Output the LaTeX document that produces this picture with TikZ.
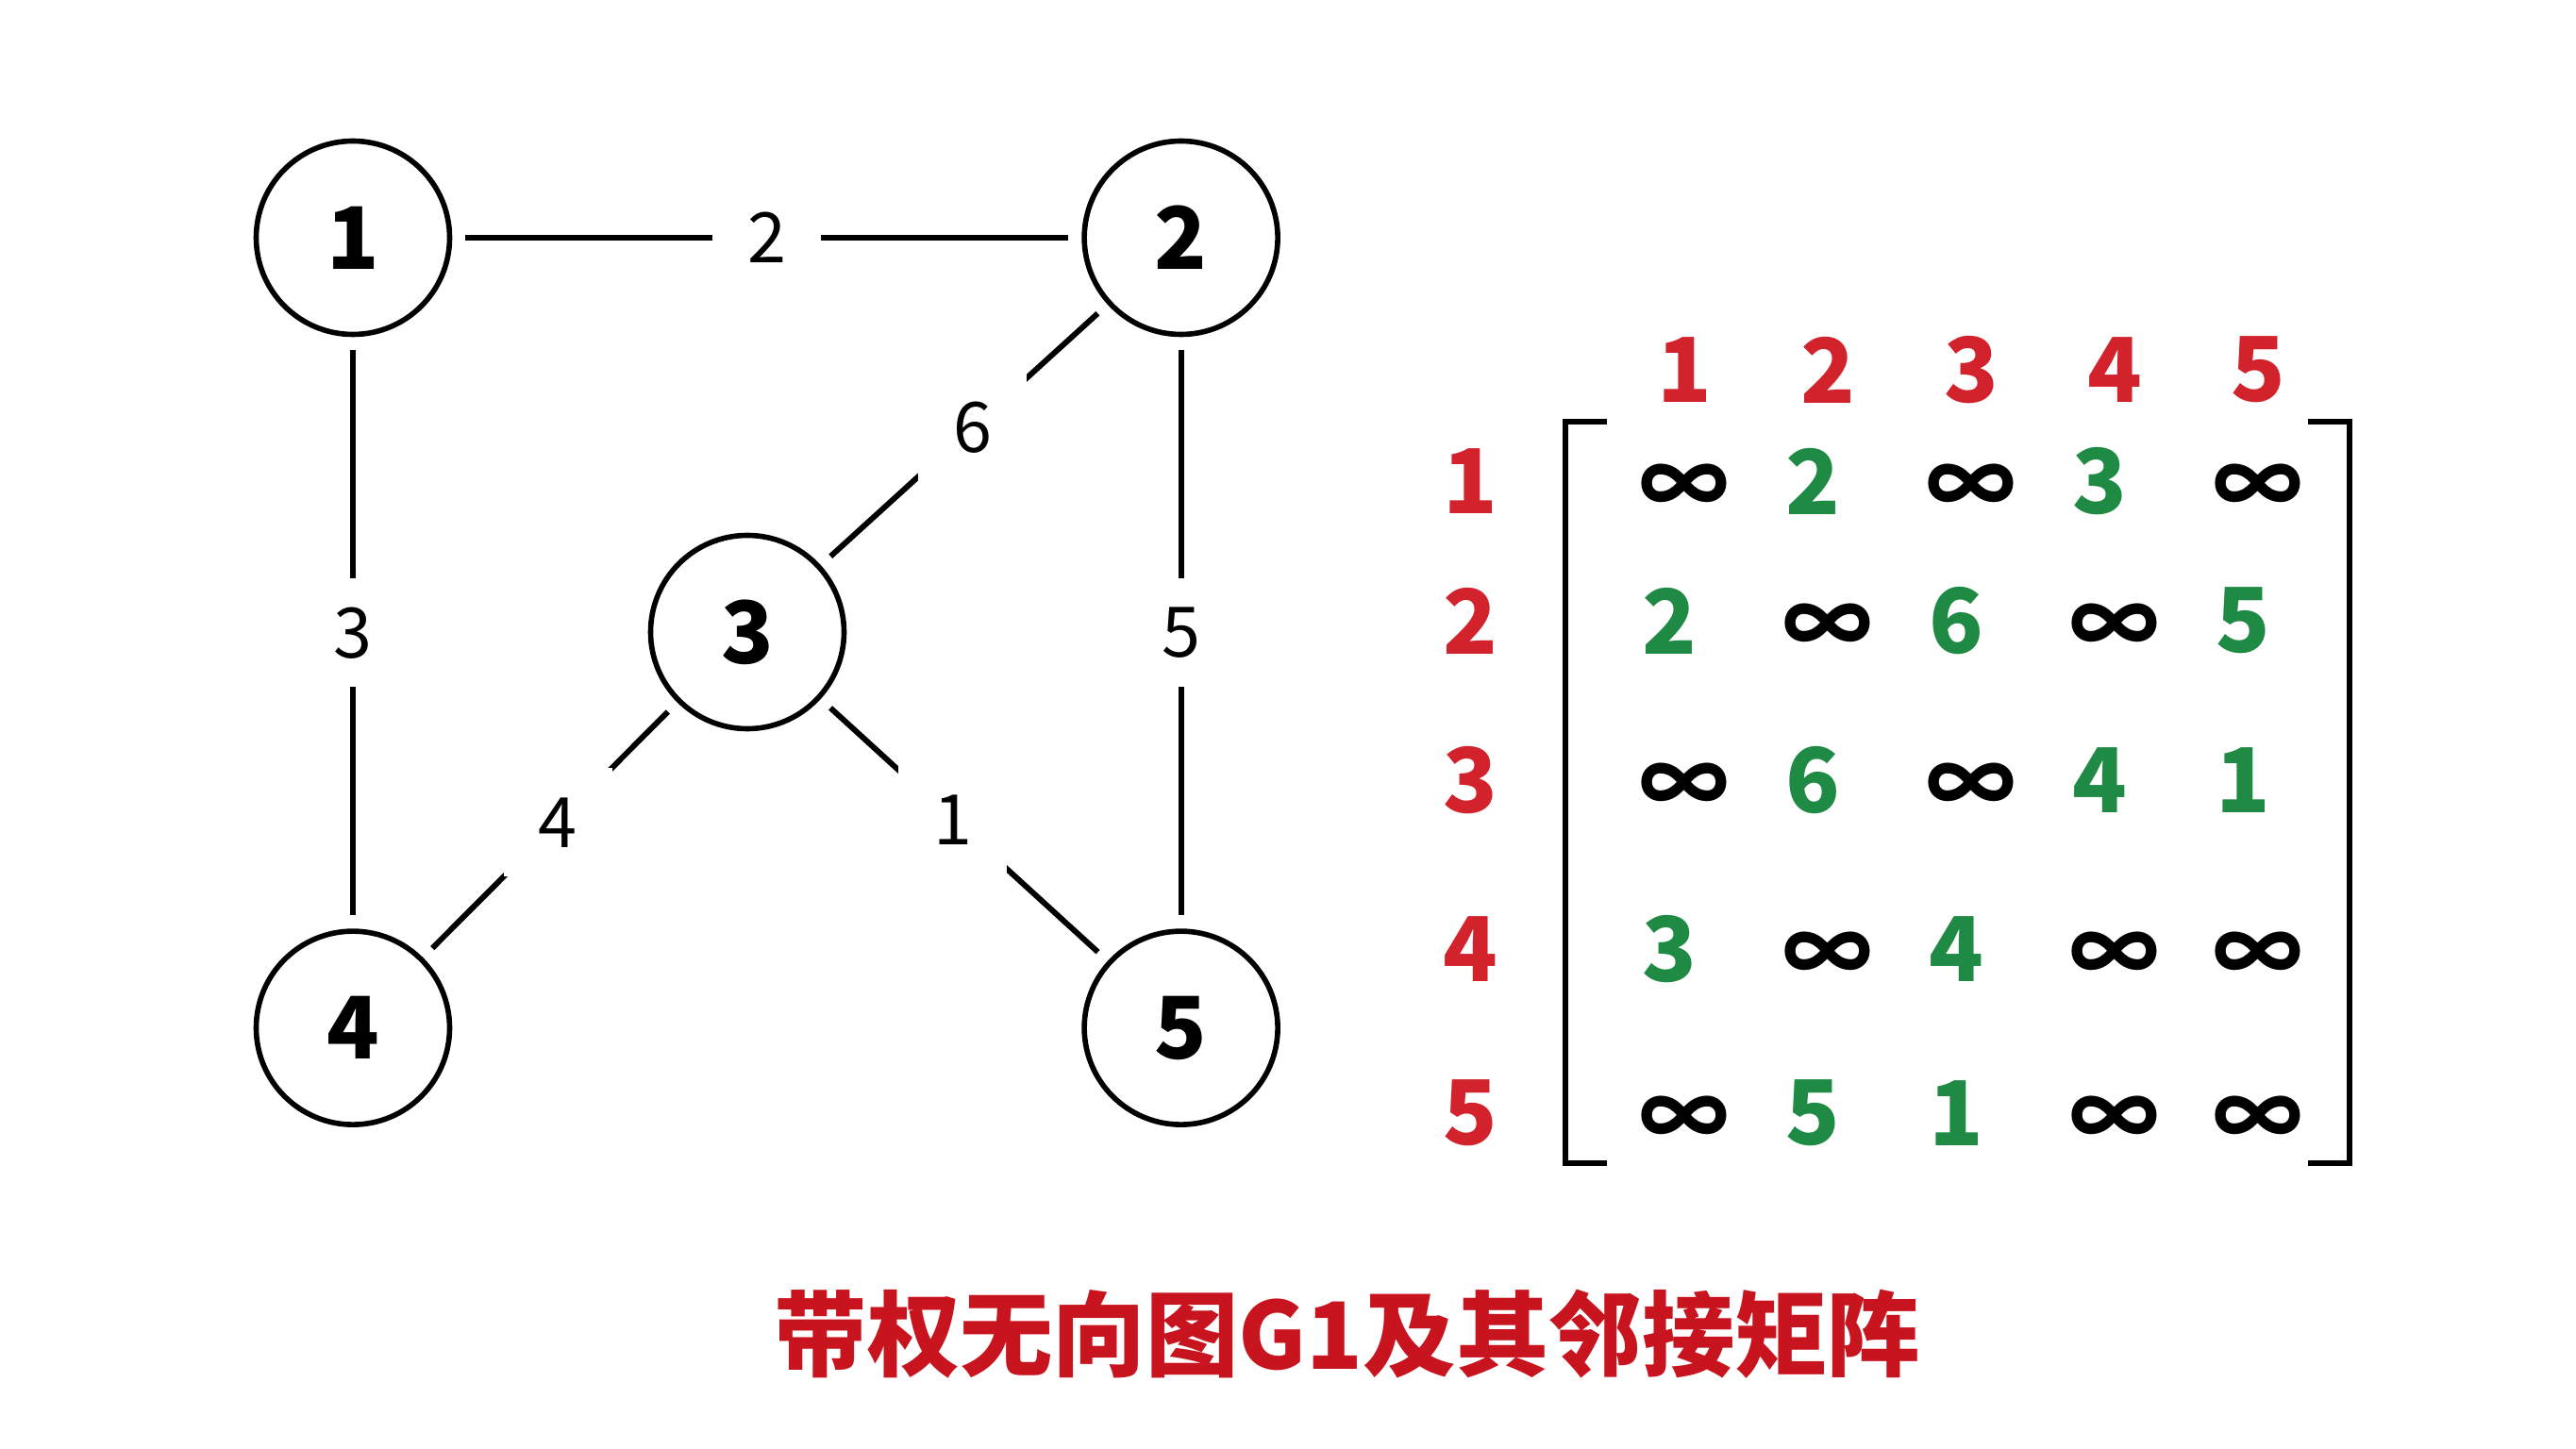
\documentclass[tikz,border=0pt]{standalone}
\usepackage{fontspec}
\setmainfont{Noto Sans CJK SC}
\usepackage{xcolor}
\usetikzlibrary{positioning}

\definecolor{titlered}{HTML}{C8141E}
\definecolor{labelred}{HTML}{D2232D}
\definecolor{valgreen}{HTML}{1E8A44}

\begin{document}
\begin{tikzpicture}[
        vertex/.style={draw, circle, line width=1.6pt, minimum size=2.05cm, inner sep=0pt, font=\fontsize{26}{30}\selectfont\bfseries},
        edge/.style={line width=1.7pt, shorten >=1.4mm, shorten <=1.4mm},
        weight/.style={fill=white, minimum size=1.15cm, inner sep=0pt, font=\fontsize{21}{24}\selectfont},
        idx/.style={text=labelred, font=\fontsize{27}{30}\selectfont\bfseries},
        wt/.style={text=valgreen, xshift=-1.6mm, font=\fontsize{27}{30}\selectfont\bfseries},
        inf/.style={yshift=-1mm, font=\fontsize{27}{30}\selectfont\bfseries}
    ]
        \useasboundingbox (0,0) rectangle (27.30,15.35);

        % graph G1
        \node[vertex] (n1) at (3.74,12.83) {1};
        \node[vertex, right=6.67cm of n1] (n2) {2};
        \node[vertex] (n3) at (7.92,8.65) {3};
        \node[vertex, below=6.27cm of n1] (n4) {4};
        \node[vertex, below=6.27cm of n2] (n5) {5};

        \draw[edge] (n1) -- node[weight]{2} (n2);
        \draw[edge] (n1) -- node[weight]{3} (n4);
        \draw[edge] (n2) -- node[weight, pos=0.47]{6} (n3);
        \draw[edge] (n2) -- node[weight]{5} (n5);
        \draw[edge] (n3) -- node[weight, pos=0.47]{4} (n4);
        \draw[edge] (n3) -- node[weight, pos=0.46]{1} (n5);

        % adjacency matrix
        \foreach \c in {1,...,5}
            \node[idx] (col-\c) at ({17.85+1.52*(\c-1)},11.43) {\c};
        \foreach \y/\row [count=\r] in {10.25/{x,2,x,3,x}, 8.77/{2,x,6,x,5}, 7.08/{x,6,x,4,1}, 5.29/{3,x,4,x,x}, 3.55/{x,5,1,x,x}} {
            \node[idx] (row-\r) at (15.58,\y) {\r};
            \foreach \v [count=\c] in \row {
                \if x\v
                    \node[inf] (m-\r-\c) at ({17.85+1.52*(\c-1)},\y) {∞};
                \else
                    \node[wt] (m-\r-\c) at ({17.85+1.52*(\c-1)},\y) {\v};
                \fi
            }
        }
        \draw[line width=1.6pt] (17.03,10.88) -| (16.59,3.02) -- (17.03,3.02);
        \draw[line width=1.6pt] (24.46,10.88) -| (24.90,3.02) -- (24.46,3.02);

        % title
        \node[text=titlered, font=\fontsize{28}{32}\selectfont\bfseries] (title) at (14.28,1.21) {带权无向图G1及其邻接矩阵};
    \end{tikzpicture}
\end{document}
